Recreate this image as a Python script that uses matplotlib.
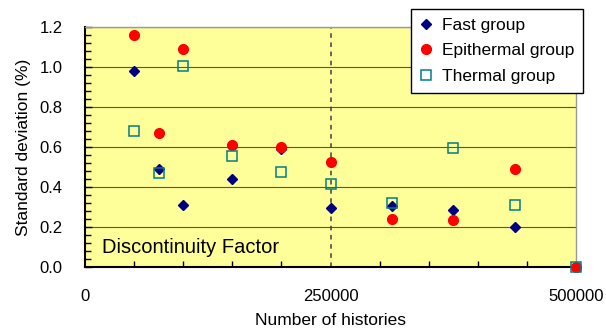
import matplotlib.pyplot as plt
import numpy as np

plt.rcParams['font.family'] = ['Liberation Sans', 'DejaVu Sans']

# number of histories
histories = [50000, 75000, 100000, 150000, 200000, 250000, 312500, 375000, 437500, 500000]

# standard deviation (%) per energy group
fast = [0.98, 0.49, 0.31, 0.44, 0.59, 0.295, 0.305, 0.285, 0.20, 0.0]
epithermal = [1.16, 0.67, 1.09, 0.61, 0.60, 0.525, 0.24, 0.235, 0.49, 0.0]
thermal = [0.68, 0.47, 1.005, 0.555, 0.475, 0.415, 0.32, 0.595, 0.31, 0.0]

fig = plt.figure(figsize=(6.06, 3.34), dpi=100)
ax = fig.add_axes([85/606, 67/334, 491/606, 240/334])
ax.set_facecolor('#FFFF99')

ax.plot(histories, fast, linestyle='none', marker='D', markersize=5.5,
        color='#000080', label='Fast group', clip_on=False, zorder=3)
ax.plot(histories, epithermal, linestyle='none', marker='o', markersize=7,
        color='#FF0000', label='Epithermal group', clip_on=False, zorder=3)
ax.plot(histories, thermal, linestyle='none', marker='s', markersize=6.5,
        markerfacecolor='none', markeredgecolor='#008080', markeredgewidth=1.1,
        label='Thermal group', clip_on=False, zorder=4)

# dashed reference line at 250000 histories
ax.axvline(250000, color='#404040', linestyle=(0, (3, 3)), linewidth=1.1, zorder=2)

ax.set_xlim(0, 500000)
ax.set_ylim(0, 1.2)
ax.set_xticks([0, 250000, 500000])
ax.set_xticks(np.arange(0, 500001, 50000), minor=True)
ax.set_yticks(np.arange(0, 1.21, 0.2))
ax.set_yticks(np.arange(0, 1.21, 0.04), minor=True)
ax.set_yticklabels(['%.1f' % v for v in np.arange(0, 1.21, 0.2)])
ax.tick_params(axis='both', which='both', direction='in', labelsize=12, pad=16)
ax.tick_params(which='minor', length=4, width=1)
ax.tick_params(axis='x', which='major', length=0)
ax.tick_params(axis='y', which='major', length=5, width=1)

ax.yaxis.grid(True, color='#555555', linewidth=0.8)
ax.set_axisbelow(True)

for s in ['left', 'bottom']:
    ax.spines[s].set_linewidth(1.5)
    ax.spines[s].set_color('black')
for s in ['right', 'top']:
    ax.spines[s].set_linewidth(1)
    ax.spines[s].set_color('#999999')

ax.set_xlabel('Number of histories', fontsize=12.5, labelpad=6)
ax.set_ylabel('Standard deviation (%)', fontsize=12.5, labelpad=6)

ax.text(0.034, 0.04, 'Discontinuity Factor', transform=ax.transAxes,
        fontsize=14.5, ha='left', va='bottom')

leg = ax.legend(loc='upper right', bbox_to_anchor=(1.014, 1.075), fontsize=12.5,
                frameon=True, fancybox=False, edgecolor='black', framealpha=1,
                handlelength=0.8, handletextpad=0.5, labelspacing=0.6,
                borderpad=0.5, borderaxespad=0)
leg.get_frame().set_linewidth(1)
leg.set_zorder(10)

fig.savefig('out.png', dpi=100)
